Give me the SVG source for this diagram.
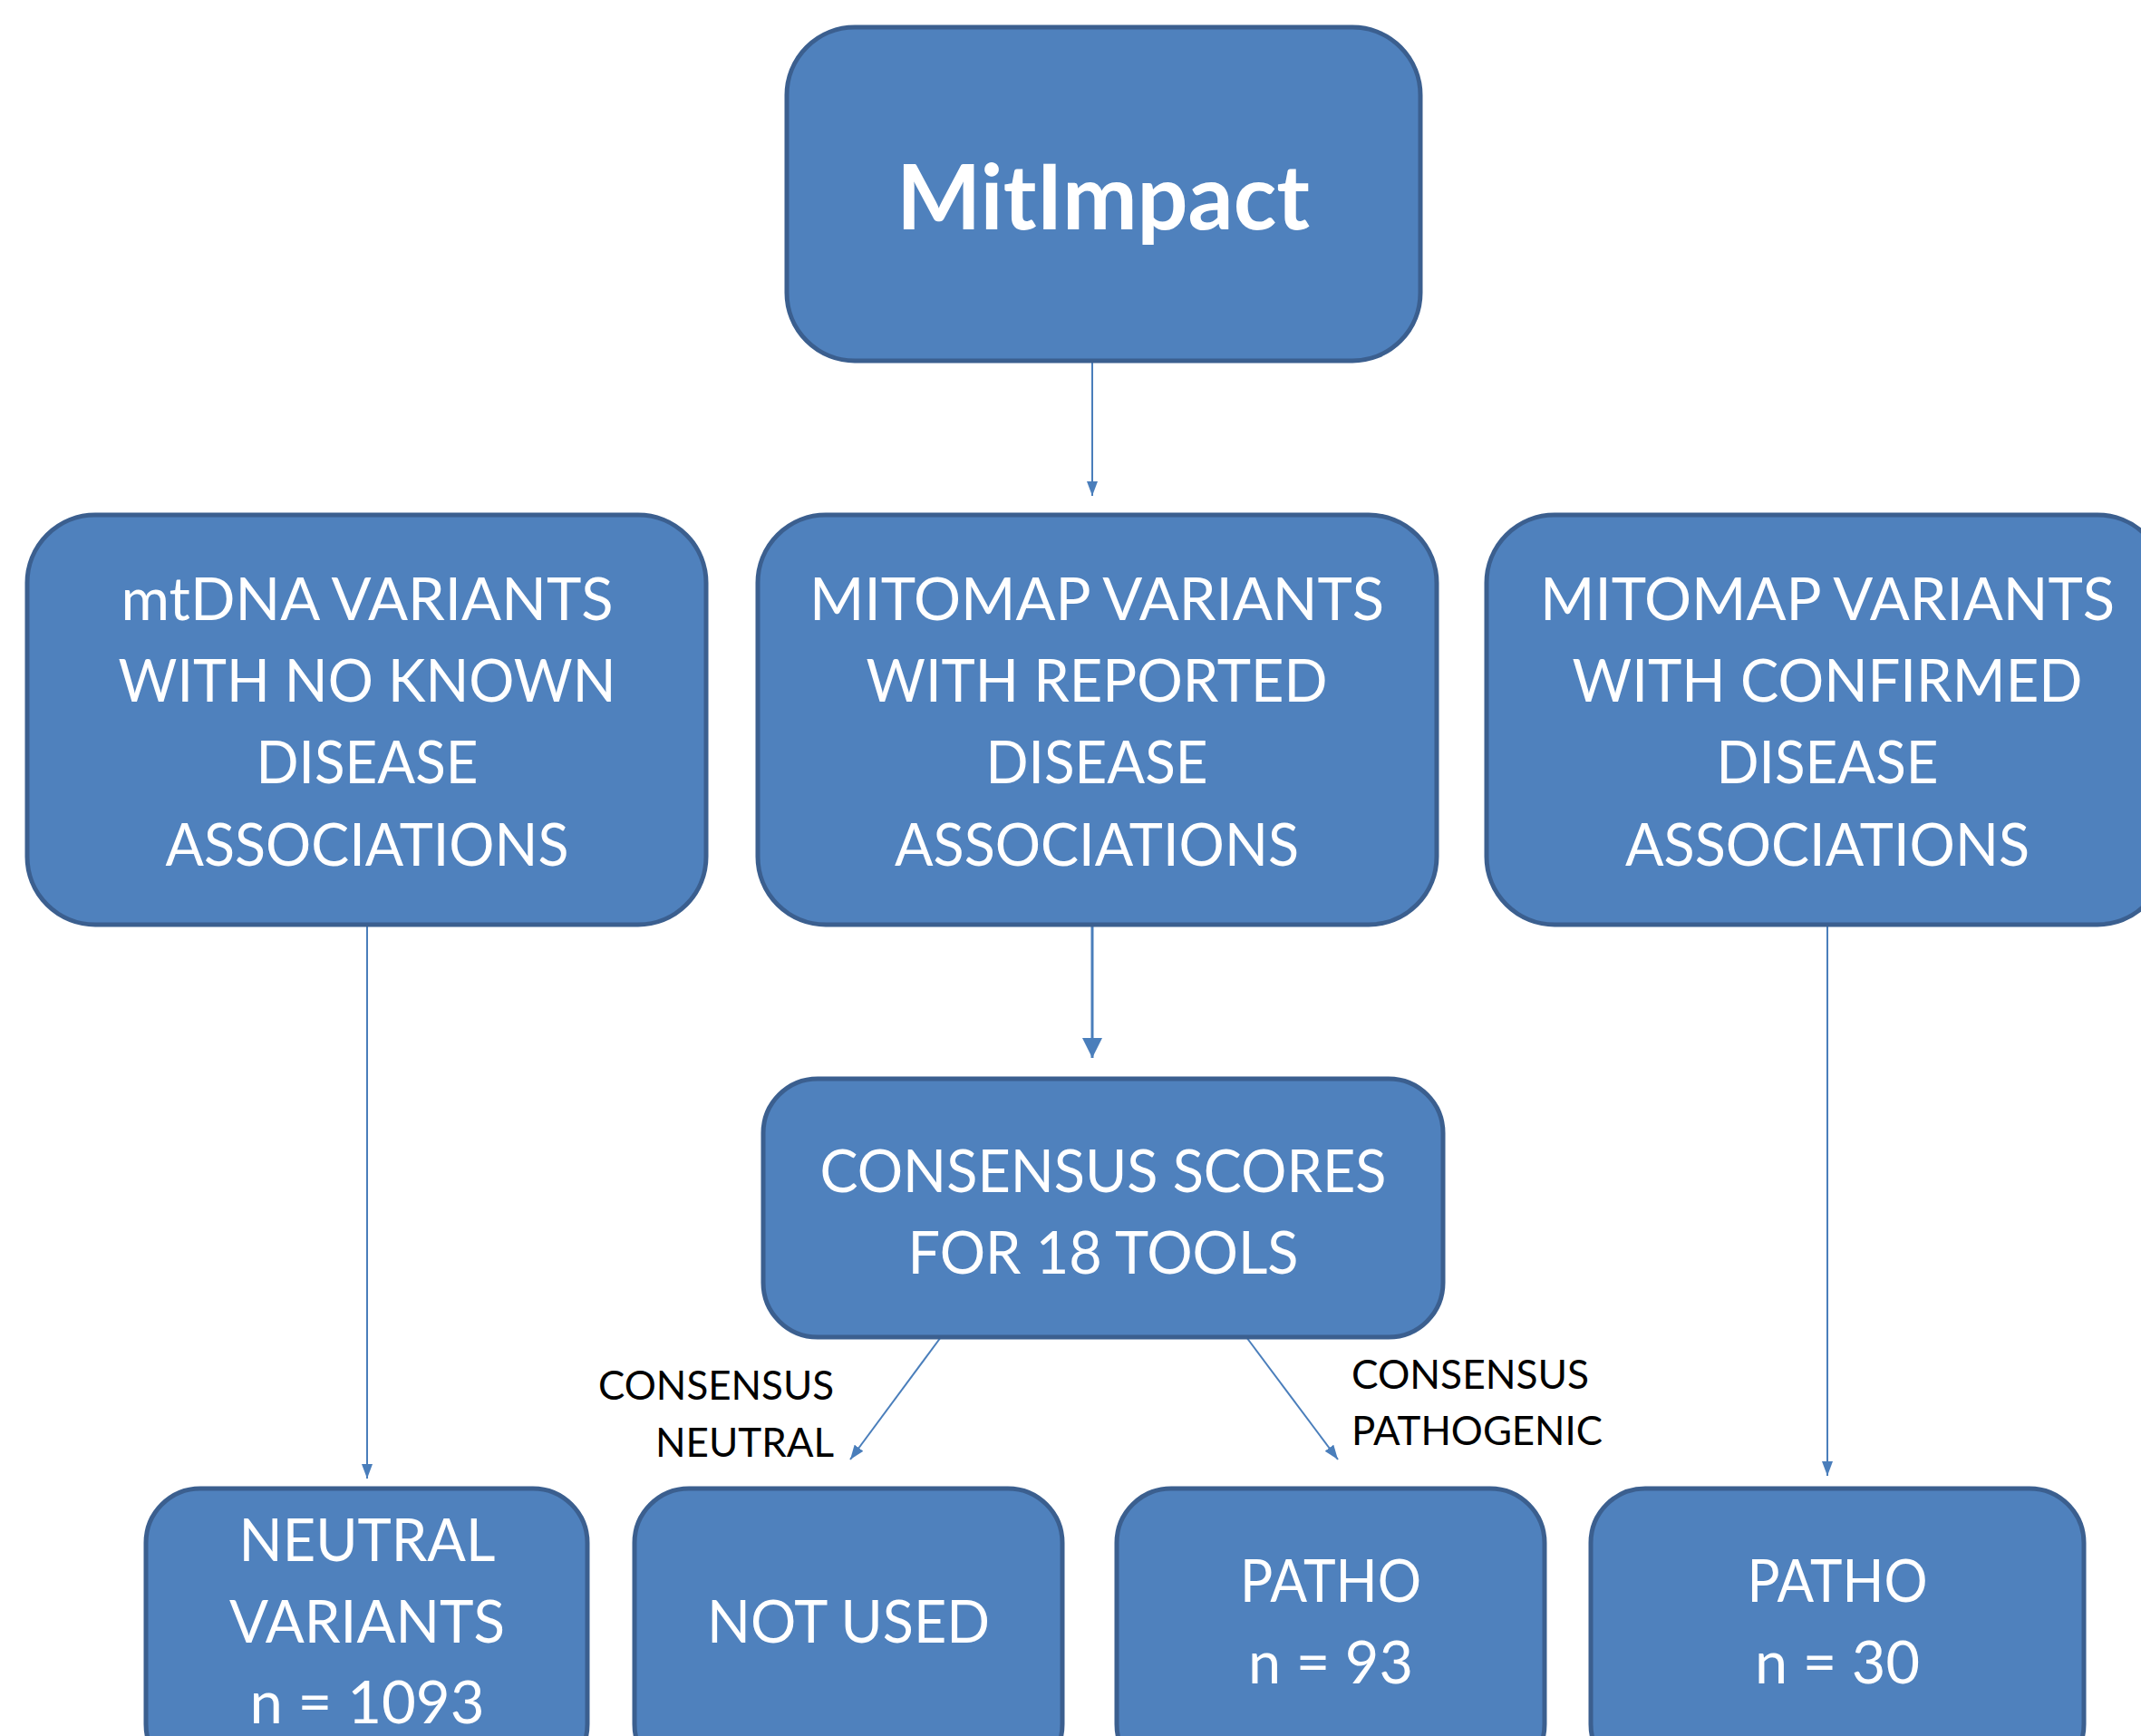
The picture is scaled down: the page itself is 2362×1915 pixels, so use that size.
<svg xmlns="http://www.w3.org/2000/svg" width="2362" height="1915" viewBox="0 0 2362 1915">
<style>
.box{fill:#4F81BD;stroke:#3B5F8F;stroke-width:5}
.t{font-family:Lato,"Open Sans","Liberation Sans",sans-serif;font-size:66px;fill:#FFFFFF;text-anchor:middle}
.tb{font-family:Lato,"Open Sans","Liberation Sans",sans-serif;font-size:100px;font-weight:bold;fill:#FFFFFF;text-anchor:middle}
.lbl{font-family:Lato,"Open Sans","Liberation Sans",sans-serif;font-size:45px;fill:#000000}
.c{stroke:#4A7EBB;stroke-width:2;fill:none}
.cb{stroke:#4A7EBB;stroke-width:3;fill:none}
</style>
<defs>
<marker id="ah" viewBox="0 0 16 12" refX="16" refY="6" markerWidth="16" markerHeight="12" markerUnits="userSpaceOnUse" orient="auto">
<path d="M0,0 L16,6 L0,12 Z" fill="#4A7EBB"/>
</marker>
<marker id="ahb" viewBox="0 0 22 22" refX="22" refY="11" markerWidth="22" markerHeight="22" markerUnits="userSpaceOnUse" orient="auto">
<path d="M0,0 L22,11 L0,22 Z" fill="#4A7EBB"/>
</marker>
</defs>
<rect width="2362" height="1915" fill="#FFFFFF"/>
<g id="connectors">
<line class="c" x1="1205" y1="398" x2="1205" y2="547" marker-end="url(#ah)"/>
<line class="c" x1="405" y1="1020" x2="405" y2="1631" marker-end="url(#ah)"/>
<line class="cb" x1="1205" y1="1020" x2="1205" y2="1167" marker-end="url(#ahb)"/>
<line class="c" x1="2016" y1="1020" x2="2016" y2="1628" marker-end="url(#ah)"/>
<line class="c" x1="1038" y1="1475" x2="938" y2="1610" marker-end="url(#ah)"/>
<line class="c" x1="1375" y1="1475" x2="1476" y2="1610" marker-end="url(#ah)"/>
</g>
<g id="lbl-neutral">
<text class="lbl" x="920" y="1544" text-anchor="end" textLength="260" lengthAdjust="spacingAndGlyphs">CONSENSUS</text>
<text class="lbl" x="920" y="1607" text-anchor="end" textLength="197" lengthAdjust="spacingAndGlyphs">NEUTRAL</text>
</g>
<g id="lbl-patho">
<text class="lbl" x="1491" y="1532" textLength="262" lengthAdjust="spacingAndGlyphs">CONSENSUS</text>
<text class="lbl" x="1491" y="1594" textLength="277" lengthAdjust="spacingAndGlyphs">PATHOGENIC</text>
</g>
<g id="mitimpact">
<rect class="box" x="868" y="30" width="699" height="368" rx="75" ry="75"/>
<text class="tb" x="1217" y="253" textLength="456" lengthAdjust="spacingAndGlyphs">MitImpact</text>
</g>
<g id="no-known">
<rect class="box" x="30" y="568" width="749" height="452" rx="75" ry="75"/>
<text class="t" x="405" y="684" textLength="543" lengthAdjust="spacingAndGlyphs">mtDNA VARIANTS</text>
<text class="t" x="405" y="774" textLength="549" lengthAdjust="spacingAndGlyphs">WITH NO KNOWN</text>
<text class="t" x="405" y="864" textLength="245" lengthAdjust="spacingAndGlyphs">DISEASE</text>
<text class="t" x="405" y="955" textLength="445" lengthAdjust="spacingAndGlyphs">ASSOCIATIONS</text>
</g>
<g id="reported">
<rect class="box" x="836" y="568" width="749" height="452" rx="75" ry="75"/>
<text class="t" x="1210" y="684" textLength="634" lengthAdjust="spacingAndGlyphs">MITOMAP VARIANTS</text>
<text class="t" x="1210" y="774" textLength="509" lengthAdjust="spacingAndGlyphs">WITH REPORTED</text>
<text class="t" x="1210" y="864" textLength="245" lengthAdjust="spacingAndGlyphs">DISEASE</text>
<text class="t" x="1210" y="955" textLength="446" lengthAdjust="spacingAndGlyphs">ASSOCIATIONS</text>
</g>
<g id="confirmed">
<rect class="box" x="1640" y="568" width="749" height="452" rx="75" ry="75"/>
<text class="t" x="2016" y="684" textLength="634" lengthAdjust="spacingAndGlyphs">MITOMAP VARIANTS</text>
<text class="t" x="2016" y="774" textLength="563" lengthAdjust="spacingAndGlyphs">WITH CONFIRMED</text>
<text class="t" x="2016" y="864" textLength="245" lengthAdjust="spacingAndGlyphs">DISEASE</text>
<text class="t" x="2016" y="955" textLength="446" lengthAdjust="spacingAndGlyphs">ASSOCIATIONS</text>
</g>
<g id="consensus">
<rect class="box" x="842" y="1190" width="750" height="285" rx="60" ry="60"/>
<text class="t" x="1217" y="1315" textLength="625" lengthAdjust="spacingAndGlyphs">CONSENSUS SCORES</text>
<text class="t" x="1217" y="1405" textLength="431" lengthAdjust="spacingAndGlyphs">FOR 18 TOOLS</text>
</g>
<g id="neutral-variants">
<rect class="box" x="161" y="1642" width="487" height="320" rx="60" ry="60"/>
<text class="t" x="405" y="1722" textLength="283" lengthAdjust="spacingAndGlyphs">NEUTRAL</text>
<text class="t" x="405" y="1812" textLength="304" lengthAdjust="spacingAndGlyphs">VARIANTS</text>
<text class="t" x="405" y="1901" textLength="259" lengthAdjust="spacingAndGlyphs">n = 1093</text>
</g>
<g id="not-used">
<rect class="box" x="700" y="1642" width="472" height="320" rx="60" ry="60"/>
<text class="t" x="936" y="1812" textLength="312" lengthAdjust="spacingAndGlyphs">NOT USED</text>
</g>
<g id="patho-93">
<rect class="box" x="1232" y="1642" width="472" height="320" rx="60" ry="60"/>
<text class="t" x="1468" y="1767" textLength="200" lengthAdjust="spacingAndGlyphs">PATHO</text>
<text class="t" x="1468" y="1857" textLength="182" lengthAdjust="spacingAndGlyphs">n = 93</text>
</g>
<g id="patho-30">
<rect class="box" x="1755" y="1642" width="544" height="320" rx="60" ry="60"/>
<text class="t" x="2027" y="1767" textLength="199" lengthAdjust="spacingAndGlyphs">PATHO</text>
<text class="t" x="2027" y="1857" textLength="182" lengthAdjust="spacingAndGlyphs">n = 30</text>
</g>
</svg>
